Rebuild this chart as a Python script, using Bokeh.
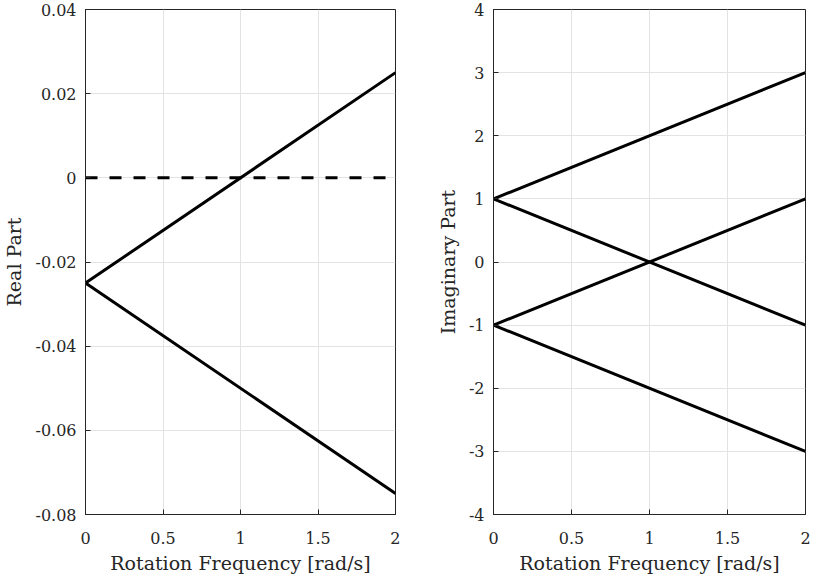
from bokeh.plotting import figure
from bokeh.layouts import row
from bokeh.models import FixedTicker, Range1d
from bokeh.embed import file_html
from bokeh.resources import INLINE

# Data
freq = [0, 2]
real_1 = [-0.025, 0.025]
real_2 = [-0.025, -0.075]
real_zero = [0, 0]
imag_1 = [1, 3]
imag_2 = [1, -1]
imag_3 = [-1, 1]
imag_4 = [-1, -3]

x_ticks = [0, 0.5, 1, 1.5, 2]
x_labels = {0: "0", 0.5: "0.5", 1: "1", 1.5: "1.5", 2: "2"}
re_ticks = [-0.08, -0.06, -0.04, -0.02, 0, 0.02, 0.04]
re_labels = ["-0.08", "-0.06", "-0.04", "-0.02", "0", "0.02", "0.04"]
im_ticks = [-4, -3, -2, -1, 0, 1, 2, 3, 4]
im_labels = ["-4", "-3", "-2", "-1", "0", "1", "2", "3", "4"]

FONT = "DejaVu Serif"
TICK_FS = "16px"
LABEL_FS = "19px"
INK = "#262626"


def style(p, yticks, ylabels, ylabel):
    p.x_range = Range1d(0, 2)
    p.xaxis.ticker = FixedTicker(ticks=x_ticks)
    p.xaxis.major_label_overrides = x_labels
    p.yaxis.ticker = FixedTicker(ticks=yticks)
    p.yaxis.major_label_overrides = dict(zip(yticks, ylabels))
    p.xaxis.axis_label = "Rotation Frequency [rad/s]"
    p.yaxis.axis_label = ylabel
    for ax in (p.xaxis[0], p.yaxis[0]):
        ax.major_label_text_font = FONT
        ax.major_label_text_font_size = TICK_FS
        ax.major_label_text_color = INK
        ax.axis_label_text_font = FONT
        ax.axis_label_text_font_size = LABEL_FS
        ax.axis_label_text_font_style = "normal"
        ax.axis_label_text_color = INK
        ax.axis_line_color = INK
        ax.major_tick_line_color = INK
        ax.major_tick_in = 5
        ax.major_tick_out = 0
        ax.minor_tick_line_color = None
    p.xaxis.major_label_standoff = 17
    p.yaxis.major_label_standoff = 9
    p.xaxis.axis_label_standoff = 5
    p.yaxis.axis_label_standoff = 7
    p.xgrid.grid_line_color = "#e3e3e3"
    p.ygrid.grid_line_color = "#e3e3e3"
    p.outline_line_color = INK
    p.outline_line_alpha = 1.0
    p.background_fill_color = "white"
    p.border_fill_color = "white"


H = 576
p1 = figure(width=400, height=H, output_backend="svg", toolbar_location=None,
            min_border_left=83, min_border_right=5, min_border_top=9, min_border_bottom=62)
p1.y_range = Range1d(-0.08, 0.04)
style(p1, re_ticks, re_labels, "Real Part")
p1.line(freq, real_1, line_color="black", line_width=3)
p1.line(freq, real_2, line_color="black", line_width=3)
p1.line(freq, real_zero, line_color="black", line_width=3, line_dash="12 12")

p2 = figure(width=411, height=H, output_backend="svg", toolbar_location=None,
            min_border_left=93, min_border_right=6, min_border_top=9, min_border_bottom=62)
p2.y_range = Range1d(-4, 4)
style(p2, im_ticks, im_labels, "Imaginary Part")
for ys in (imag_1, imag_2, imag_3, imag_4):
    p2.line(freq, ys, line_color="black", line_width=3)

layout = row(p1, p2, spacing=0)
open("out.html", "w").write(file_html(layout, INLINE))
